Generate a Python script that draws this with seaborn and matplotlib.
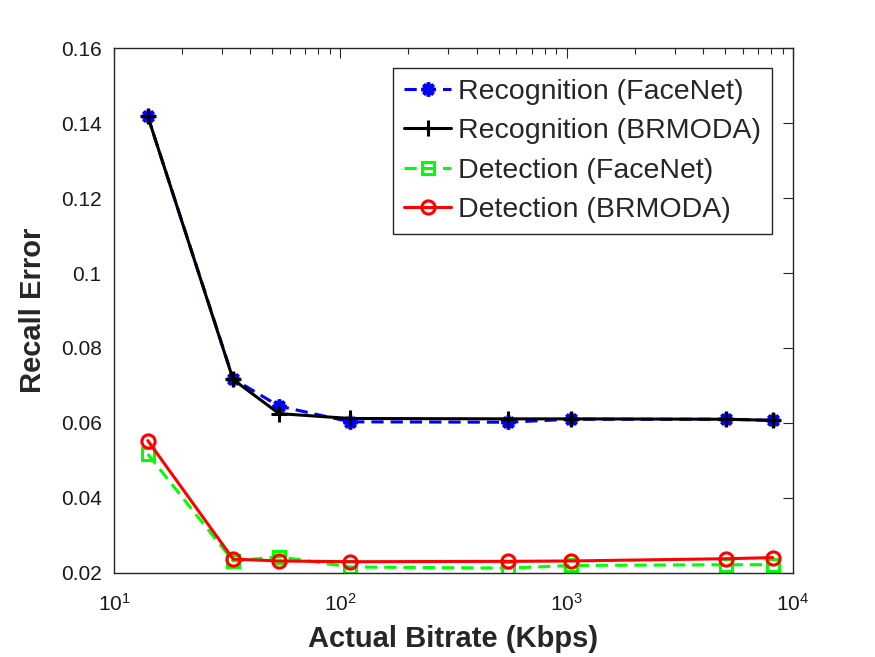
import numpy as np
import pandas as pd
import seaborn as sns
import matplotlib.pyplot as plt
from matplotlib.ticker import LogLocator, NullFormatter, FixedLocator, FixedFormatter

# data
bitrate = [14.1, 33.6, 53.6, 110.7, 552, 1041, 5050, 8130]
recogFaceNet = [0.1418, 0.0718, 0.0645, 0.0603, 0.0602, 0.0610, 0.0610, 0.0607]
recogBRMODA = [0.1418, 0.0716, 0.0625, 0.0612, 0.0611, 0.0611, 0.0610, 0.0607]
detFaceNet = [0.0517, 0.0232, 0.0243, 0.0216, 0.0213, 0.0220, 0.0222, 0.0222]
detBRMODA = [0.0553, 0.0237, 0.0232, 0.0230, 0.0231, 0.0232, 0.0238, 0.0241]

yTicks = [0.02, 0.04, 0.06, 0.08, 0.1, 0.12, 0.14, 0.16]
yTickLabels = ['0.02', '0.04', '0.06', '0.08', '0.1', '0.12', '0.14', '0.16']

sns.set_style("white")
plt.rcParams['font.family'] = ['Liberation Sans', 'DejaVu Sans']
plt.rcParams['mathtext.fontset'] = 'custom'
plt.rcParams['mathtext.rm'] = 'Liberation Sans'
plt.rcParams['mathtext.default'] = 'regular'

axColor = '#262626'

fig = plt.figure(figsize=(8.75, 6.57), dpi=100)
ax = fig.add_axes([0.1303, 0.1279, 0.7760, 0.7990])

dashLs = (0, (4, 2.3))
lw = 2.2

sns.lineplot(x=bitrate, y=recogFaceNet, ax=ax, color='#0000ff', linestyle=dashLs, linewidth=lw,
             marker=(8, 2, 0), markersize=10, markeredgewidth=2.6, markeredgecolor='#0000ff',
             label='Recognition (FaceNet)', errorbar=None, legend=False)
sns.lineplot(x=bitrate, y=recogBRMODA, ax=ax, color='black', linestyle='-', linewidth=lw,
             marker='+', markersize=11, markeredgewidth=2.2, markeredgecolor='black',
             label='Recognition (BRMODA)', errorbar=None, legend=False)
sns.lineplot(x=bitrate, y=detFaceNet, ax=ax, color='#00ff00', linestyle=dashLs, linewidth=lw,
             marker='s', markersize=8.5, markeredgewidth=2.2, markeredgecolor='#00ff00',
             markerfacecolor='none', label='Detection (FaceNet)', errorbar=None, legend=False)
sns.lineplot(x=bitrate, y=detBRMODA, ax=ax, color='#ff0000', linestyle='-', linewidth=lw,
             marker='o', markersize=9.5, markeredgewidth=2.2, markeredgecolor='#ff0000',
             markerfacecolor='none', label='Detection (BRMODA)', errorbar=None, legend=False)

ax.set_xscale('log')
ax.set_xlim(10, 1e4)
ax.set_ylim(0.02, 0.16)
ax.yaxis.set_major_locator(FixedLocator(yTicks))
ax.yaxis.set_major_formatter(FixedFormatter(yTickLabels))
ax.xaxis.set_major_locator(LogLocator(base=10, numticks=10))
ax.xaxis.set_minor_locator(LogLocator(base=10, subs=np.arange(2, 10), numticks=10))
ax.xaxis.set_minor_formatter(NullFormatter())

for sp in ax.spines.values():
    sp.set_color(axColor)
    sp.set_linewidth(1.0)
    sp.set_visible(True)
ax.tick_params(which='both', direction='in', top=True, right=True, colors=axColor,
               labelcolor='#1a1a1a', labelsize=15)
ax.tick_params(which='major', length=7, width=0.8)
ax.tick_params(axis='y', which='major', pad=9)
ax.tick_params(axis='x', which='major', pad=14)
ax.tick_params(which='minor', length=4, width=0.8)

ax.set_xlabel('Actual Bitrate (Kbps)', fontsize=21, fontweight='bold', labelpad=8)
ax.set_ylabel('Recall Error', fontsize=21, fontweight='bold', labelpad=10)

leg = ax.legend(loc='upper right', bbox_to_anchor=(0.969, 0.962), borderaxespad=0,
                fontsize=20.5, handlelength=1.65, handletextpad=0.25, labelspacing=0.47,
                borderpad=0.38, frameon=True, fancybox=False, framealpha=1)
leg.get_frame().set_edgecolor(axColor)
leg.get_frame().set_linewidth(1.0)

fig.savefig('out.png', dpi=100, facecolor='white')
